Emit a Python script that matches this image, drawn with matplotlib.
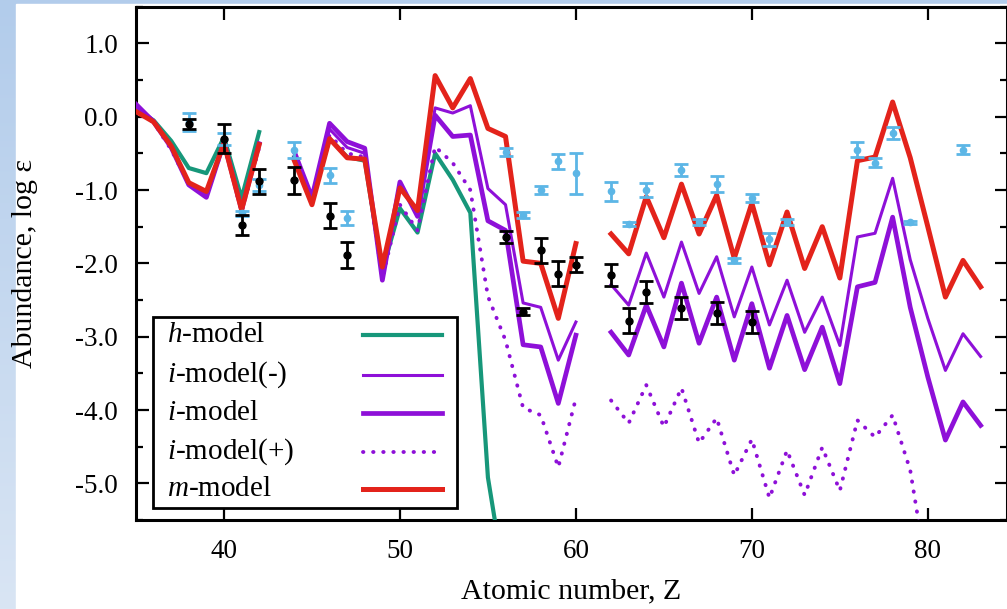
import numpy as np
import matplotlib
matplotlib.use("Agg")
import matplotlib.pyplot as plt
from matplotlib.ticker import MultipleLocator, FormatStrFormatter
from matplotlib.lines import Line2D
from matplotlib.patches import Rectangle

plt.rcParams['font.family'] = ['Liberation Serif', 'DejaVu Serif']
plt.rcParams['mathtext.fontset'] = 'custom'
plt.rcParams['mathtext.rm'] = 'Liberation Serif'
plt.rcParams['mathtext.it'] = 'Liberation Serif:italic'
plt.rcParams['axes.unicode_minus'] = False

nan = np.nan
Z = list(range(35, 84))

# model abundances, Z = 35 ... 83 (nan = not computed / gap)
h_model = [0.1, -0.05, -0.33, -0.7, -0.77, -0.28, -1.11, -0.21, nan,
           -0.55, -1.15, -0.3, -0.55, -0.6, -2.1, -1.25, -1.58, -0.5, -0.86, -1.31,
           -4.92, -6.4, nan, nan, nan, nan, nan,
           nan, nan, nan, nan, nan, nan, nan, nan, nan, nan, nan, nan, nan, nan, nan,
           nan, nan, nan, nan, nan, nan, nan]
i_model_minus = [0.15, -0.05, -0.4, -0.92, -1.08, -0.33, -1.25, -0.36, nan,
                 -0.5, -1.1, -0.17, -0.42, -0.5, -2.2, -0.93, -1.33, 0.12, 0.05, 0.15,
                 -0.98, -1.2, -2.54, -2.6, -3.32, -2.8, nan,
                 -2.29, -2.57, -1.86, -2.46, -1.71, -2.41, -1.91, -2.73, -2.05, -2.84, -2.23,
                 -2.94, -2.46, -3.12, -1.64, -1.59, -0.84, -1.95, -2.75, -3.46, -2.96, -3.27]
i_model = [0.17, -0.07, -0.42, -0.93, -1.1, -0.35, -1.27, -0.37, nan,
           -0.48, -1.1, -0.09, -0.34, -0.43, -2.23, -0.89, -1.36, 0.02, -0.27, -0.25,
           -1.42, -1.55, -3.11, -3.14, -3.91, -2.98, nan,
           -2.94, -3.25, -2.57, -3.14, -2.27, -3.09, -2.46, -3.32, -2.55, -3.43, -2.71,
           -3.45, -2.87, -3.64, -2.32, -2.26, -1.37, -2.6, -3.55, -4.41, -3.89, -4.21]
i_model_plus = [0.12, -0.08, -0.45, -0.92, -1.08, -0.38, -1.3, -0.42, nan,
                -0.55, -1.2, -0.25, -0.5, -0.55, -2.2, -1.2, -1.55, -0.41, -0.63, -1.0,
                -2.45, -3.05, -3.97, -4.07, -4.78, -3.84, nan,
                -3.87, -4.18, -3.66, -4.23, -3.7, -4.45, -4.11, -4.89, -4.4, -5.2, -4.55,
                -5.16, -4.51, -5.1, -4.14, -4.37, -4.07, -4.82, -6.3, -7.0, -6.6, -6.9]
m_model = [0.07, -0.07, -0.4, -0.9, -1.02, -0.36, -1.27, -0.38, nan,
           -0.6, -1.2, -0.3, -0.56, -0.58, -2.05, -0.97, -1.28, 0.56, 0.12, 0.52,
           -0.16, -0.27, -1.97, -2.0, -2.75, -1.73, nan,
           -1.6, -1.87, -1.09, -1.65, -0.92, -1.6, -1.07, -1.93, -1.18, -2.02, -1.3,
           -2.07, -1.5, -2.2, -0.6, -0.55, 0.2, -0.56, -1.5, -2.46, -1.96, -2.32]

# observed abundances (black set)
obs1_Z = [38, 40, 41, 42, 44, 46, 47, 56, 57, 58, 59, 60, 62, 63, 64, 66, 68, 70]
obs1_val = [-0.1, -0.3, -1.48, -0.88, -0.87, -1.35, -1.89, -1.64, -2.66, -1.82, -2.14,
            -2.02, -2.16, -2.78, -2.39, -2.61, -2.68, -2.8]
obs1_err = [0.07, 0.2, 0.14, 0.17, 0.18, 0.17, 0.18, 0.08, 0.05, 0.17, 0.17,
            0.1, 0.15, 0.17, 0.15, 0.15, 0.15, 0.15]

# observed abundances (light-blue set)
obs2_Z = [38, 40, 41, 42, 44, 46, 47, 56, 57, 58, 59, 60, 62, 63, 64, 66, 67, 68,
          69, 70, 71, 72, 76, 77, 78, 79, 82]
obs2_val = [-0.07, -0.3, -1.32, -0.93, -0.45, -0.8, -1.38, -0.48, -1.34, -1.0, -0.61,
            -0.77, -1.02, -1.46, -1.0, -0.73, -1.44, -0.92, -1.96, -1.11, -1.67, -1.44,
            -0.45, -0.63, -0.22, -1.44, -0.45]
obs2_err = [0.12, 0.08, 0.04, 0.08, 0.11, 0.1, 0.1, 0.05, 0.04, 0.06, 0.1,
            0.28, 0.13, 0.03, 0.09, 0.08, 0.04, 0.11, 0.03, 0.05, 0.09, 0.04,
            0.1, 0.06, 0.08, 0.02, 0.06]

labels = ["$h$-model", "$i$-model(-)", "$i$-model", "$i$-model(+)", "$m$-model"]

W, H = 1007, 609
fig = plt.figure(figsize=(W / 100, H / 100), dpi=100)

# slide-like background
bg = fig.add_axes([0, 0, 1, 1], zorder=-10)
grad = np.linspace(0, 1, 256).reshape(-1, 1)
bg.imshow(grad, aspect='auto', extent=[0, 1, 0, 1], origin='upper',
          cmap=matplotlib.colors.LinearSegmentedColormap.from_list(
              'bgc', ['#b2cceb', '#d9e5f4']))
bg.add_patch(Rectangle((16 / W, 0), 1, (H - 4) / H, color='white', zorder=2))
bg.set_xlim(0, 1)
bg.set_ylim(0, 1)
bg.axis('off')

ax = fig.add_axes([136 / W, 1 - 520 / H, (W - 136) / W, (520 - 6.7) / H])
ax.set_facecolor('white')

c_green = '#17977a'
c_purple = '#8e10d8'
c_red = '#e3231b'
c_blue = '#5cb6e6'

st_h = dict(color=c_green, lw=3.0)
st_im = dict(color=c_purple, lw=2.2)
st_i = dict(color=c_purple, lw=3.4)
st_ip = dict(color=c_purple, lw=2.8, ls=(0, (0.1, 2.5)), dash_capstyle='round')
st_m = dict(color=c_red, lw=3.6)

ax.plot(Z, h_model, zorder=3, **st_h)
ax.plot(Z, i_model_minus, zorder=3, **st_im)
ax.plot(Z, i_model, zorder=3, **st_i)
ax.plot(Z, i_model_plus, zorder=3, **st_ip)
ax.plot(Z, m_model, zorder=4, **st_m)

ax.errorbar(obs2_Z, obs2_val, yerr=obs2_err, fmt='o', ms=4.5, color=c_blue,
            ecolor=c_blue, elinewidth=2.0, capsize=5, capthick=2.0, zorder=5)
ax.errorbar(obs1_Z, obs1_val, yerr=obs1_err, fmt='o', ms=5, color='black',
            ecolor='black', elinewidth=2.0, capsize=5, capthick=2.0, zorder=6)

ax.set_xlim(35, 84.5)
ax.set_ylim(-5.5, 1.5)
ax.xaxis.set_major_locator(MultipleLocator(10))
ax.yaxis.set_major_locator(MultipleLocator(1.0))
ax.yaxis.set_minor_locator(MultipleLocator(0.5))
ax.yaxis.set_major_formatter(FormatStrFormatter('%.1f'))
ax.tick_params(which='both', direction='in', top=True, right=True, width=1.6)
ax.tick_params(which='major', length=9, labelsize=19.5)
ax.tick_params(axis='x', which='major', pad=14)
ax.tick_params(axis='y', which='major', pad=13)
ax.tick_params(which='minor', length=5)
for s in ax.spines.values():
    s.set_linewidth(2.2)

ax.set_xlabel('Atomic number, Z', fontsize=21.5, labelpad=10)
ax.set_ylabel('Abundance, log ε', fontsize=21.5)
ax.yaxis.set_label_coords(-0.113, 0.5)

# legend drawn as a framed box: labels left, line samples right
ax.add_patch(Rectangle((0.0195, 0.0234), 0.349, 0.372, transform=ax.transAxes,
                       facecolor='white', edgecolor='black', lw=2.0, zorder=7))
rows_y = [0.3604, 0.2825, 0.2085, 0.1325, 0.0604]
styles = [st_h, st_im, st_i, st_ip, st_m]
for ylab, lab, st in zip(rows_y, labels, styles):
    ax.text(0.0356, ylab, lab, transform=ax.transAxes, fontsize=21,
            va='center', ha='left', zorder=8)
    ax.add_line(Line2D([0.2606, 0.3513], [ylab, ylab], transform=ax.transAxes,
                       zorder=8, **st))

fig.savefig('out.png', dpi=100)
